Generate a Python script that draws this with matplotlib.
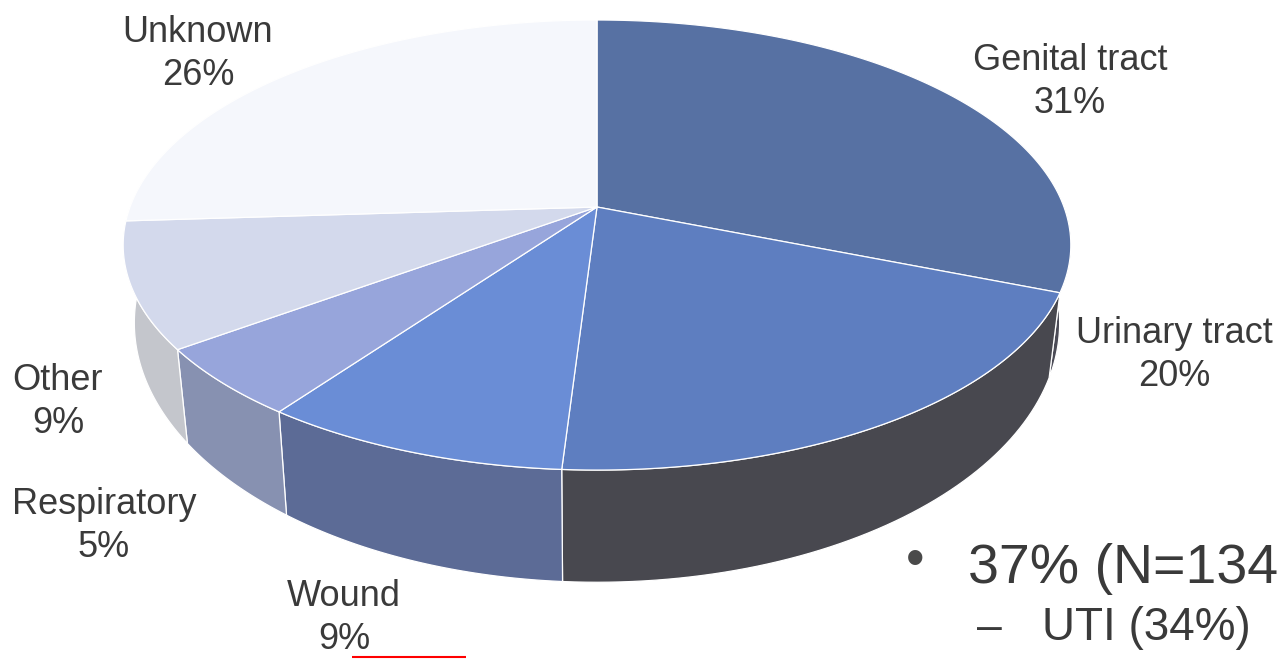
import numpy as np
import matplotlib.pyplot as plt
from matplotlib.patches import Polygon

plt.rcParams['font.family'] = ['Liberation Sans', 'DejaVu Sans']

# data (clockwise from 12 o'clock)
labels = ['Genital tract', 'Urinary tract', 'Wound', 'Respiratory', 'Other', 'Unknown']
shares = [31, 20, 9, 5, 9, 26]
note_main = '37% (N=134'
note_sub = 'UTI (34%)'

top_colors = ['#5771a3', '#5e7ec0', '#6a8dd6', '#97a5db', '#d3d9ec', '#f5f7fc']
side_colors = ['#4b4b56', '#48484f', '#5c6b96', '#8791b1', '#c4c6cc', '#e2e4ea']

# label anchor: x centre, baseline of first line
label_x = [1070, 1174, 344, 104, 58, 198]
label_base = [70, 343, 606, 514, 390, 42]
line_pitch = 43

# tilted pie geometry (pixel space), simple perspective
cx = 597
top_c, top_rx, top_ry = 207, 467, 218.6
bot_c, bot_rx, bot_ry = 279, 456, 252
k = 0.169


def proj(deg, rx, ry, cy):
    t = np.radians(deg)
    a, b = np.cos(t), np.sin(t)
    d = 1 + k * b
    return cx + rx * a / d, cy - ry * b / d


fig = plt.figure(figsize=(12.79, 6.59), dpi=100)
ax = fig.add_axes([0, 0, 1, 1])
ax.set_xlim(0, 1279)
ax.set_ylim(659, 0)
ax.axis('off')

start = 90.0
for i, s in enumerate(shares):
    t1 = start
    t2 = start - s * 3.6
    start = t2

    # side wall (front half only)
    hi, lo = min(t1, 0), max(t2, -180)
    if hi > lo:
        ang = np.linspace(hi, lo, 60)
        xt, yt = proj(ang, top_rx, top_ry, top_c)
        xb, yb = proj(ang[::-1], bot_rx, bot_ry, bot_c)
        pts = np.column_stack([np.r_[xt, xb], np.r_[yt, yb]])
        ax.add_patch(Polygon(pts, closed=True, fc=side_colors[i], ec='white', lw=0.9, zorder=1))

    # top face
    ang = np.linspace(t1, t2, 120)
    xt, yt = proj(ang, top_rx, top_ry, top_c)
    x0, y0 = proj(0, 0, 0, top_c)
    pts = np.column_stack([np.r_[x0, xt], np.r_[y0, yt]])
    ax.add_patch(Polygon(pts, closed=True, fc=top_colors[i], ec='white', lw=0.9, zorder=2))

for i, name in enumerate(labels):
    ax.text(label_x[i], label_base[i], name, ha='center', va='baseline',
            fontsize=26, color='#3a3a3a')
    ax.text(label_x[i], label_base[i] + line_pitch, f'{shares[i]}%', ha='center', va='baseline',
            fontsize=26, color='#3a3a3a')

# bullet notes on the right
ax.text(915, 562, '\u2022', ha='center', va='center', fontsize=38, color='#4a4a4a')
ax.text(968, 583, note_main, ha='left', va='baseline', fontsize=40, color='#3a3a3a')
ax.text(989, 640, '\u2013', ha='center', va='baseline', fontsize=32, color='#3a3a3a')
ax.text(1042, 640, note_sub, ha='left', va='baseline', fontsize=33, color='#3a3a3a')

# red underline remnant
ax.plot([352, 466], [657, 657], color='red', lw=1.5, solid_capstyle='butt')

fig.savefig('out.png', dpi=100)
